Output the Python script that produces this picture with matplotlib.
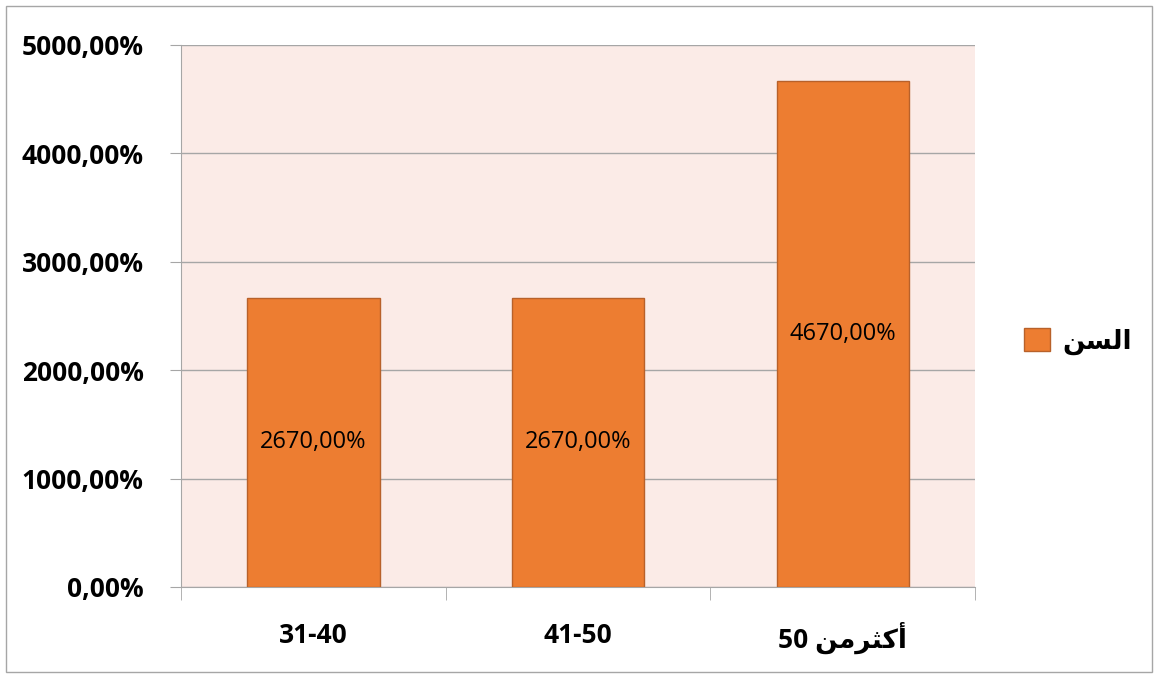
import matplotlib
matplotlib.use("Agg")
import matplotlib.pyplot as plt
from matplotlib.patches import Rectangle

plt.rcParams['font.family'] = ['Open Sans', 'DejaVu Sans']

# Arabic written in presentation forms, visual (left-to-right) order
categories = ["31-40", "41-50", "50 \uFEE6\uFEE3\uFEAE\uFE9C\uFEDB\uFE83"]
values = [2670, 2670, 4670]
series_name = "\uFEE6\uFEB4\uFEDF\uFE8D"
yticks = [0, 1000, 2000, 3000, 4000, 5000]

bar_color = '#ED7D31'
edge_color = '#B8612A'
bg_color = '#FBEBE7'
grid_color = '#A6A6A6'

fig = plt.figure(figsize=(11.58, 6.78), dpi=100)
ax = fig.add_axes([181 / 1158, 91 / 678, 794 / 1158, 542 / 678])
ax.set_facecolor(bg_color)

x = list(range(len(categories)))
bars = ax.bar(x, values, width=0.5, color=bar_color, edgecolor=edge_color,
              linewidth=1, label=series_name, zorder=3)

for xi, v in zip(x, values):
    ax.text(xi, v / 2, f"{v},00%", ha='center', va='center', fontsize=17,
            color='black', zorder=4)

ax.set_xlim(-0.5, 2.5)
ax.set_ylim(0, 5000)
ax.set_yticks(yticks)
ax.set_yticklabels([f"{v},00%" for v in yticks], fontsize=19, fontweight='bold')
ax.yaxis.grid(True, color=grid_color, linewidth=1, zorder=1)
ax.set_axisbelow(True)
ax.tick_params(axis='y', length=8, color=grid_color, pad=19)

ax.set_xticks(x)
ax.set_xticklabels(categories, fontsize=19, fontweight='bold')
ax.set_xticks([-0.5, 0.5, 1.5, 2.5], minor=True)
ax.tick_params(axis='x', which='major', length=0, pad=25)
ax.tick_params(axis='x', which='minor', length=9, color=grid_color)

for side in ['top', 'right']:
    ax.spines[side].set_visible(False)
for side in ['left', 'bottom']:
    ax.spines[side].set_color(grid_color)

ax.legend(handles=[bars], loc='center left', bbox_to_anchor=(1000 / 1158, 1 - 341 / 678),
          bbox_transform=fig.transFigure, frameon=False,
          handlelength=1.0, handleheight=1.0, handletextpad=0.45,
          prop={'weight': 'bold', 'size': 19})

fig.patches.append(Rectangle((6 / 1158, 6 / 678), 1146 / 1158, 666 / 678,
                             transform=fig.transFigure, fill=False,
                             edgecolor='#A6A6A6', linewidth=1))

fig.savefig("out.png", dpi=100)
